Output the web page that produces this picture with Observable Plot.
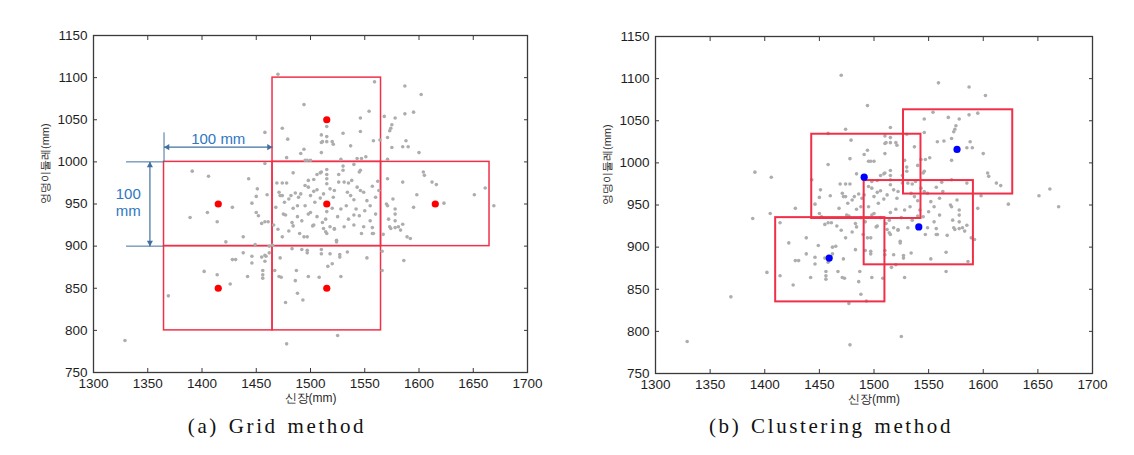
<!DOCTYPE html>
<html><head><meta charset="utf-8">
<script src="https://cdn.jsdelivr.net/npm/d3@7"></script>
<script src="https://cdn.jsdelivr.net/npm/@observablehq/plot@0.6"></script>
<style>
body{margin:0;background:#fff;width:1134px;height:455px;position:relative;overflow:hidden;font-family:"Liberation Sans",Arial,sans-serif}
.panel{position:absolute;top:0}
.cap{position:absolute;top:415px;line-height:22px;font-family:"Liberation Serif",serif;font-size:21px;letter-spacing:2.6px;word-spacing:2px;color:#111;white-space:nowrap;transform:translateX(-50%)}
</style></head><body>
<div id="a" class="panel" style="left:0"></div>
<div id="b" class="panel" style="left:562px"></div>
<div class="cap" style="left:277px">(a) Grid method</div>
<div class="cap" style="left:831px">(b) Clustering method</div>
<script>
// 신장 (height, mm) and 엉덩이둘레 (hip circumference, mm) of each subject
const heightMM = [1329,1369,1389,1391,1405,1406,1402,1414,1414,1426,1422,1428,1428,1431,1438,1438,1442,1443,1446,1446,
1446,1449,1450,1450,1451,1452,1455,1455,1456,1456,1456,1458,1458,1458,1458,1458,1459,1460,1461,1462,
1462,1465,1467,1470,1471,1472,1473,1474,1474,1477,1477,1478,1479,1469,1474,1478,1471,1474,1480,1478,
1475,1483,1484,1483,1484,1486,1487,1488,1491,1492,1492,1493,1494,1494,1494,1495,1497,1497,1497,1497,
1498,1498,1498,1495,1500,1500,1502,1503,1503,1503,1506,1506,1508,1509,1510,1510,1510,1510,1510,1510,
1511,1511,1512,1514,1514,1515,1515,1515,1515,1515,1515,1515,1515,1516,1518,1518,1520,1520,1521,1521,
1522,1522,1524,1524,1525,1526,1527,1527,1528,1528,1530,1530,1531,1531,1534,1535,1537,1538,1540,1540,
1543,1543,1545,1546,1546,1546,1546,1547,1547,1549,1549,1551,1552,1552,1554,1557,1557,1557,1558,1558,
1559,1562,1564,1566,1566,1567,1568,1570,1571,1571,1571,1571,1572,1573,1573,1574,1574,1575,1575,1576,
1578,1578,1578,1578,1578,1581,1583,1585,1585,1585,1586,1587,1587,1588,1589,1590,1592,1595,1595,1598,
1600,1602,1604,1605,1612,1616,1623,1651,1661,1669,
1472,1476,1482,1486,1489,1491,1488,1484,1495,1500,1504,1509,1512,1518,1522,1526,1530,1534,1537,1540,
1542,1533,1528,1525,1535,1545,1550,1555,1560,1563,1560,1555,1540,1498,1506,1520,1515,1488,1468,1466,
1470,1480,1490];
const hipMM = [788,841,934,989,940,983,870,929,866,855,905,946,884,884,911,892,864,980,951,888,
880,902,940,959,968,936,927,887,871,866,862,889,929,882,998,1035,888,961,929,892,
900,901,871,1104,864,886,863,911,1040,937,833,784,1027,975,975,975,964,960,956,1005,
938,928,924,897,987,859,871,844,1010,930,896,836,911,1015,1068,1002,911,895,892,1002,
864,978,970,972,1002,960,924,979,965,925,985,967,863,987,988,1011,891,896,1032,1023,
928,1024,921,917,932,915,1042,1030,1024,991,985,980,974,876,891,923,879,1024,958,1021,
921,920,907,905,794,976,890,887,864,1003,995,1034,923,976,893,975,1019,978,997,925,
1004,970,988,990,966,1036,1052,1004,915,964,923,1006,954,886,1060,915,922,971,915,1025,
1095,977,1026,871,894,914,1054,950,948,1003,980,1029,932,923,1037,1040,921,1044,1017,956,
944,938,930,922,1052,923,919,926,976,1018,883,1057,1090,1025,911,1018,909,1059,946,961,
1011,1080,988,984,976,973,951,961,969,948,
960,952,960,963,958,962,948,945,948,940,952,957,962,968,966,985,990,964,960,955,
944,948,944,935,932,936,942,948,958,966,938,930,937,938,935,945,941,935,946,925,
920,918,915];

const xTicks = [1300,1350,1400,1450,1500,1550,1600,1650,1700];
const yTicks = [750,800,850,900,950,1000,1050,1100,1150];

// (a) grid cells: lower-left corners, cell size 100 mm
const cellSize = 100;
const gridX1 = [1465,1365,1465,1565,1365,1465];
const gridY1 = [1000,900,900,900,800,800];

// (b) cluster centres and their 100 mm windows (lower-left corners)
const clusterX = [1491,1576,1541,1459];
const clusterY = [983,1016,924,887];
const boxX1 = [1443,1527,1491,1410];
const boxY1 = [934,963,879,835];

// dimension annotations in panel (a)
const dimLabel = "100 mm";

const points = heightMM.map((h,i)=>({x:h, y:hipMM[i]}));
const gridCells = gridX1.map((x,i)=>({x1:x, x2:x+cellSize, y1:gridY1[i], y2:gridY1[i]+cellSize, cx:x+cellSize/2, cy:gridY1[i]+cellSize/2}));
const clusterBoxes = boxX1.map((x,i)=>({x1:x, x2:x+cellSize, y1:boxY1[i], y2:boxY1[i]+cellSize}));
const centers = clusterX.map((x,i)=>({x, y:clusterY[i]}));

const RED = "#f03048", GRAY = "#adadad", AX = "#3a3a3a", BLUE_LINE = "#41709f", BLUE_TXT = "#2f78c0";
const fmt = d3.format("d");

function baseMarks() {
  return [
    Plot.axisX({ticks:xTicks, tickSize:-4, tickPadding:10, tickFormat:fmt, label:null, stroke:AX, fill:"#1e1e1e", fontSize:13.5}),
    Plot.axisX({anchor:"top", ticks:xTicks, tickSize:-4, tickFormat:()=>"", label:null, stroke:AX}),
    Plot.axisY({ticks:yTicks, tickSize:-4, tickPadding:10, tickFormat:fmt, label:null, stroke:AX, fill:"#1e1e1e", fontSize:13.5}),
    Plot.axisY({anchor:"right", ticks:yTicks, tickSize:-4, tickFormat:()=>"", label:null, stroke:AX}),
    Plot.frame({stroke:AX, strokeWidth:1.3}),
    Plot.text(["신장(mm)"], {frameAnchor:"bottom", dy:29, fontSize:12, fill:"#2a2a2a"}),
    Plot.text(["엉덩이둘레(mm)"], {frameAnchor:"left", dx:-48, rotate:-90, fontSize:11, fill:"#2a2a2a"})
  ];
}

function makePlot(marks, mr, mt, h) {
  return Plot.plot({
    width:560, height:h,
    marginLeft:93, marginRight:mr, marginTop:mt, marginBottom:28,
    x:{domain:[1300,1700]}, y:{domain:[750,1150]},
    style:{fontFamily:"'Liberation Sans', Arial, sans-serif", fontSize:"13px", background:"white", color:"#222", overflow:"visible"},
    marks
  });
}

// Panel (a)
const hArrowY = 1017.5, vArrowX = 1352;
const leftX = gridX1[1], midX = gridX1[0];
const topY = gridY1[1] + cellSize, botY = gridY1[1];
const plotA = makePlot([
  Plot.rect(gridCells, {x1:"x1", x2:"x2", y1:"y1", y2:"y2", fill:"none", stroke:RED, strokeWidth:1.5}),
  Plot.dot(points, {x:"x", y:"y", r:1.8, fill:GRAY}),
  Plot.dot(gridCells, {x:"cx", y:"cy", r:3.6, fill:"#ff0000"}),
  // horizontal dimension
  Plot.link([{x1:leftX, x2:leftX, y1:topY, y2:topY+35}], {x1:"x1", x2:"x2", y1:"y1", y2:"y2", stroke:BLUE_LINE, strokeWidth:1}),
  Plot.link([{x1:leftX, x2:midX, y:hArrowY}], {x1:"x1", x2:"x2", y1:"y", y2:"y", stroke:BLUE_LINE, strokeWidth:1.2}),
  Plot.dot([{x:leftX, y:hArrowY}], {x:"x", y:"y", symbol:"triangle2", r:2.9, rotate:-90, dx:3.5, fill:BLUE_LINE}),
  Plot.dot([{x:midX, y:hArrowY}], {x:"x", y:"y", symbol:"triangle2", r:2.9, rotate:90, dx:-3.5, fill:BLUE_LINE}),
  Plot.text([{x:(leftX+midX)/2, y:hArrowY+9}], {x:"x", y:"y", text:()=>dimLabel, fontSize:15, fill:BLUE_TXT}),
  // vertical dimension
  Plot.link([{x1:leftX-35, x2:leftX, y:topY},{x1:leftX-35, x2:leftX, y:botY}], {x1:"x1", x2:"x2", y1:"y", y2:"y", stroke:BLUE_LINE, strokeWidth:1}),
  Plot.link([{x:vArrowX, y1:topY, y2:botY}], {x1:"x", x2:"x", y1:"y1", y2:"y2", stroke:BLUE_LINE, strokeWidth:1.2}),
  Plot.dot([{x:vArrowX, y:topY}], {x:"x", y:"y", symbol:"triangle2", r:2.9, rotate:0, dy:3.5, fill:BLUE_LINE}),
  Plot.dot([{x:vArrowX, y:botY}], {x:"x", y:"y", symbol:"triangle2", r:2.9, rotate:180, dy:-3.5, fill:BLUE_LINE}),
  Plot.text([{x:vArrowX-20, y:(topY+botY)/2+12, t:"100"},{x:vArrowX-20, y:(topY+botY)/2-8, t:"mm"}], {x:"x", y:"y", text:"t", fontSize:15, fill:BLUE_TXT}),
  ...baseMarks()
], 33, 35, 400);
document.getElementById("a").appendChild(plotA);

// Panel (b)
const plotB = makePlot([
  Plot.dot(points, {x:"x", y:"y", r:1.8, fill:GRAY}),
  Plot.rect(clusterBoxes, {x1:"x1", x2:"x2", y1:"y1", y2:"y2", fill:"none", stroke:RED, strokeWidth:2}),
  Plot.dot(centers, {x:"x", y:"y", r:3.6, fill:"#0000ff"}),
  ...baseMarks()
], 30, 36, 401);
document.getElementById("b").appendChild(plotB);
</script>
</body></html>
